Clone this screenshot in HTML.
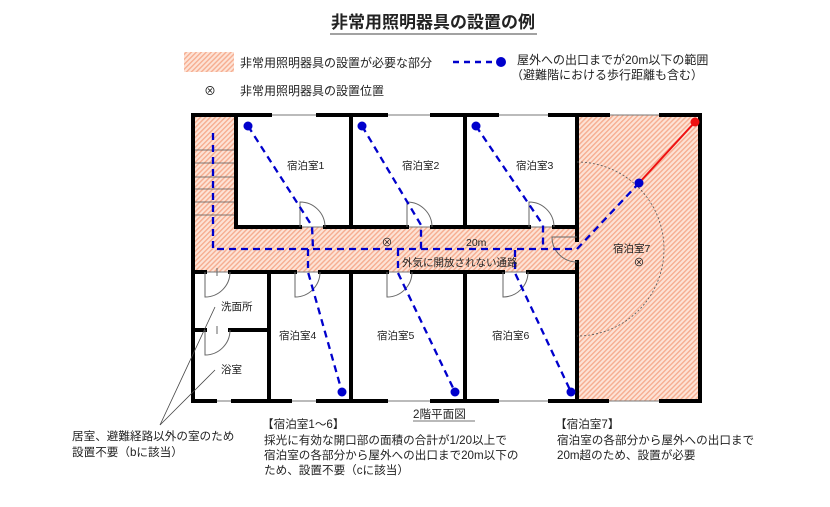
<!DOCTYPE html>
<html><head><meta charset="utf-8"><style>
html,body{margin:0;padding:0;background:#fff;}
svg{display:block;}
text{font-family:"Liberation Sans","Noto Sans CJK JP",sans-serif;fill:#222;}
</style></head><body>
<svg width="830" height="507" viewBox="0 0 830 507" xmlns="http://www.w3.org/2000/svg">
<defs>
<pattern id="h" width="3.5" height="3.5" patternUnits="userSpaceOnUse" patternTransform="rotate(45)">
<rect width="3.5" height="3.5" fill="#fde3d6"/>
<rect width="1.4" height="3.5" fill="#f6ad90"/>
</pattern>
</defs>
<!-- title -->
<text x="433" y="28" font-size="17" font-weight="bold" text-anchor="middle">非常用照明器具の設置の例</text>
<line x1="330" y1="34" x2="537" y2="34" stroke="#444" stroke-width="1"/>
<!-- legend -->
<rect x="184" y="52" width="50" height="20" fill="url(#h)"/>
<text x="240" y="67" font-size="12">非常用照明器具の設置が必要な部分</text>
<line x1="453" y1="62" x2="498" y2="62" stroke="#0000cc" stroke-width="2.5" stroke-dasharray="6,5"/>
<circle cx="501" cy="62" r="5" fill="#0000cc"/>
<text x="517" y="64" font-size="12">屋外への出口までが20m以下の範囲</text>
<text x="511" y="79" font-size="12">（避難階における歩行距離も含む）</text>
<text x="210" y="95" font-size="12" text-anchor="middle">⊗</text>
<text x="240" y="95" font-size="12">非常用照明器具の設置位置</text>

<!-- hatched areas -->
<rect x="193" y="115" width="43" height="157" fill="url(#h)"/>
<rect x="193" y="227" width="384" height="45" fill="url(#h)"/>
<rect x="577" y="115" width="123" height="286" fill="url(#h)"/>

<!-- stairs -->
<g stroke="#555" stroke-width="0.8">
<line x1="193" y1="150" x2="236" y2="150"/><line x1="193" y1="163" x2="236" y2="163"/>
<line x1="193" y1="177" x2="236" y2="177"/><line x1="193" y1="189" x2="236" y2="189"/>
<line x1="193" y1="202" x2="236" y2="202"/><line x1="193" y1="215" x2="236" y2="215"/>
</g>

<g stroke="#777" stroke-width="1">
<line x1="193" y1="115" x2="700" y2="115"/>
<line x1="193" y1="401" x2="700" y2="401"/>
<line x1="193" y1="272" x2="577" y2="272"/>
<line x1="236" y1="227" x2="577" y2="227"/>
</g>
<g stroke="#000" stroke-width="4" stroke-linecap="square" fill="none">
<line x1="193" y1="115" x2="270" y2="115"/><line x1="318" y1="115" x2="386" y2="115"/>
<line x1="432" y1="115" x2="497" y2="115"/><line x1="550" y1="115" x2="608" y2="115"/>
<line x1="661" y1="115" x2="700" y2="115"/>
<line x1="193" y1="401" x2="215" y2="401"/><line x1="233" y1="401" x2="290" y2="401"/>
<line x1="318" y1="401" x2="386" y2="401"/><line x1="432" y1="401" x2="497" y2="401"/>
<line x1="550" y1="401" x2="607" y2="401"/><line x1="661" y1="401" x2="700" y2="401"/>
<line x1="193" y1="115" x2="193" y2="401"/>
<line x1="700" y1="115" x2="700" y2="401"/>
<line x1="577" y1="115" x2="577" y2="240"/>
<line x1="577" y1="262" x2="577" y2="401"/>
<line x1="236" y1="115" x2="236" y2="227"/>
<line x1="351" y1="115" x2="351" y2="227"/>
<line x1="465" y1="115" x2="465" y2="227"/>
<line x1="236" y1="227" x2="300" y2="227"/><line x1="325" y1="227" x2="407" y2="227"/>
<line x1="432" y1="227" x2="529" y2="227"/><line x1="554" y1="227" x2="577" y2="227"/>
<line x1="193" y1="272" x2="205" y2="272"/><line x1="230" y1="272" x2="295" y2="272"/>
<line x1="320" y1="272" x2="387" y2="272"/><line x1="412" y1="272" x2="503" y2="272"/>
<line x1="528" y1="272" x2="577" y2="272"/>
<line x1="269" y1="272" x2="269" y2="401"/>
<line x1="351" y1="272" x2="351" y2="401"/>
<line x1="465" y1="272" x2="465" y2="401"/>
<line x1="193" y1="330" x2="205" y2="330"/><line x1="230" y1="330" x2="269" y2="330"/>
</g>

<g stroke="#666" stroke-width="1" fill="none">
<path d="M300 227 V202 A25 25 0 0 1 325 227"/>
<path d="M407 227 V202 A25 25 0 0 1 432 227"/>
<path d="M529 227 V202 A25 25 0 0 1 554 227"/>
<path d="M577 237 H552 A25 25 0 0 0 577 262"/>
<path d="M295 272 V297 A25 25 0 0 0 320 272"/>
<path d="M387 272 V297 A25 25 0 0 0 412 272"/>
<path d="M503 272 V297 A25 25 0 0 0 528 272"/>
<path d="M205 272 V297 A25 25 0 0 0 230 272"/>
<path d="M205 330 V355 A25 25 0 0 0 230 330"/>
<line x1="217" y1="268" x2="217" y2="276"/>
<line x1="217" y1="326" x2="217" y2="334"/>
</g>

<path d="M577 162 A87 87 0 0 1 577 336" stroke="#555" stroke-width="0.8" stroke-dasharray="2,2" fill="none"/>

<g stroke="#444" stroke-width="0.8">
<line x1="160" y1="425" x2="215" y2="307"/>
<line x1="160" y1="425" x2="215" y2="370"/>
</g>

<g stroke="#0000cc" stroke-width="2.3" stroke-dasharray="7,5" fill="none">
<polyline points="213,133 213,249 577,249 639,183"/>
<polyline points="248,126 312,226 313,249"/>
<polyline points="362,126 421,225 421,249"/>
<polyline points="476,126 543,225 543,249"/>
<polyline points="308,249 308,272 342,392"/>
<polyline points="398,249 398,273 455,392"/>
<polyline points="515,250 515,273 571,392"/>
</g>
<line x1="639" y1="183" x2="695" y2="122" stroke="#ee1111" stroke-width="2"/>
<g fill="#0000cc">
<circle cx="248" cy="126" r="4.5"/><circle cx="362" cy="126" r="4.5"/><circle cx="476" cy="126" r="4.5"/>
<circle cx="342" cy="392" r="4.5"/><circle cx="455" cy="392" r="4.5"/><circle cx="571" cy="392" r="4.5"/>
<circle cx="639" cy="183" r="4.5"/>
</g>
<circle cx="695" cy="122" r="4.5" fill="#ee1111"/>

<g font-size="10.5">
<text x="287" y="169">宿泊室1</text>
<text x="402" y="169">宿泊室2</text>
<text x="516" y="169">宿泊室3</text>
<text x="279" y="339">宿泊室4</text>
<text x="377" y="339">宿泊室5</text>
<text x="492" y="339">宿泊室6</text>
<text x="613" y="252">宿泊室7</text>
<text x="221" y="310">洗面所</text>
<text x="221" y="373">浴室</text>
<text x="466" y="246">20m</text>
<text x="402" y="266">外気に開放されない通路</text>
</g>
<g font-size="11" text-anchor="middle" fill="#555">
<text x="387" y="246">⊗</text>
<text x="639" y="266">⊗</text>
</g>

<text x="413" y="418" font-size="11.6">2階平面図</text>
<line x1="413" y1="421" x2="475" y2="421" stroke="#444" stroke-width="0.8"/>
<g font-size="11.6">
<text x="72" y="440">居室、避難経路以外の室のため</text>
<text x="72" y="456">設置不要（bに該当）</text>
<text x="262" y="428">【宿泊室1～6】</text>
<text x="264" y="444">採光に有効な開口部の面積の合計が1/20以上で</text>
<text x="264" y="459">宿泊室の各部分から屋外への出口まで20m以下の</text>
<text x="264" y="474">ため、設置不要（cに該当）</text>
<text x="555" y="428">【宿泊室7】</text>
<text x="557" y="444">宿泊室の各部分から屋外への出口まで</text>
<text x="557" y="459">20m超のため、設置が必要</text>
</g>
</svg>
</body></html>
